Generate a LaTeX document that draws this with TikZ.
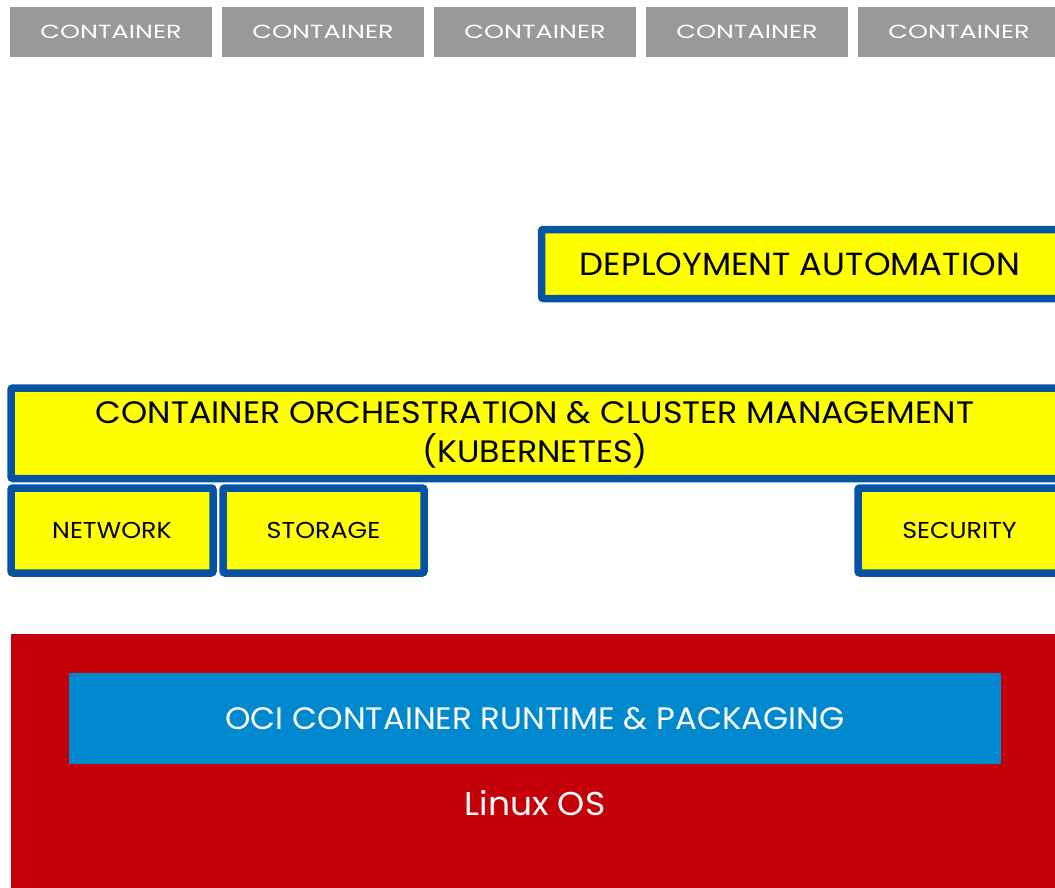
\documentclass[tikz,border=0pt]{standalone}
\usepackage{graphicx}
\usepackage{fontspec}
\setmainfont{Poppins}
\definecolor{boxgray}{HTML}{999999}
\definecolor{kyellow}{HTML}{FFFF00}
\definecolor{kblue}{HTML}{0652A4}
\definecolor{osred}{HTML}{C4000B}
\definecolor{ociblue}{HTML}{0089CF}
\newcommand{\hsc}[2]{\scalebox{#1}[1]{#2}}
\begin{document}
\begin{tikzpicture}[x=1pt,y=-1pt,
  cont/.style={fill=boxgray, text=white, inner sep=0pt, outer sep=0pt,
    minimum width=202pt, minimum height=50pt, anchor=north west,
    font=\fontsize{19}{22}\selectfont},
  ybox/.style={draw=kblue, fill=kyellow, line width=7.5pt, rounded corners=2pt,
    inner sep=0pt, outer sep=0pt},
  btxt/.style={text=black, inner sep=0pt, align=center},
  small/.style={font=\fontsize{23}{26}\selectfont},
]
\useasboundingbox (0,0) rectangle (1055,888);
\clip (0,0) rectangle (1055,888);
% containers
\node[cont] (c1) at (10,7) {\hsc{1.34}{CONTAINER}};
\node[cont] (c2) at (222,7) {\hsc{1.34}{CONTAINER}};
\node[cont] (c3) at (434,7) {\hsc{1.34}{CONTAINER}};
\node[cont] (c4) at (646,7) {\hsc{1.34}{CONTAINER}};
\node[cont] (c5) at (858,7) {\hsc{1.34}{CONTAINER}};
% deployment automation
\node[ybox, minimum width=540pt, minimum height=69pt] (dabox) at (811.5,264) {};
\node[btxt, font=\fontsize{32}{36}\selectfont] (da) at (800,264) {\hsc{1.06}{DEPLOYMENT AUTOMATION}};
% orchestration
\node[ybox, minimum width=1070pt, minimum height=90.5pt] (orbox) at (546,433.25) {};
\node[btxt, font=\fontsize{31}{39}\selectfont] (or) at (535,435) {\hsc{1.075}{CONTAINER ORCHESTRATION \& CLUSTER MANAGEMENT}\\\hsc{1.075}{(KUBERNETES)}};
% network, storage, security
\node[ybox, small, minimum width=202pt, minimum height=85pt] (net) at (112,530.5) {\hsc{1.1}{NETWORK}};
\node[ybox, small, minimum width=201pt, minimum height=85pt] (sto) at (323.5,530.5) {\hsc{1.1}{STORAGE}};
\node[ybox, minimum width=212pt, minimum height=85pt] (secbox) at (964,530.5) {};
\node[btxt, small] (sec) at (959.5,530.5) {\hsc{1.1}{SECURITY}};
% Linux OS
\node[fill=osred, inner sep=0pt, outer sep=0pt, minimum width=1060pt, minimum height=260pt, anchor=north west] (os) at (11,634) {};
\node[fill=ociblue, text=white, inner sep=0pt, outer sep=0pt, minimum width=932pt, minimum height=91pt, anchor=north west, font=\fontsize{31}{36}\selectfont] (oci) at (69,673) {\hsc{1.045}{OCI CONTAINER RUNTIME \& PACKAGING}};
\node[text=white, inner sep=0pt, font=\fontsize{33}{38}\selectfont] (linux) at (535,803) {\hsc{1.045}{Linux OS}};
\end{tikzpicture}
\end{document}
